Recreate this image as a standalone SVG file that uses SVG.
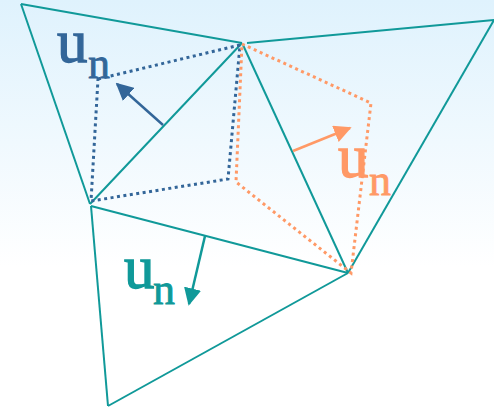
<svg xmlns="http://www.w3.org/2000/svg" width="494" height="411" viewBox="0 0 494 411">
<defs>
<linearGradient id="bg" x1="0" y1="0" x2="0" y2="1">
<stop offset="0" stop-color="#dff2fd"/>
<stop offset="0.65" stop-color="#ffffff"/>
<stop offset="1" stop-color="#ffffff"/>
</linearGradient>
<marker id="hb" viewBox="0 0 10 10" refX="9" refY="5" markerWidth="7" markerHeight="7" markerUnits="strokeWidth" orient="auto"><path d="M0,0 L10,5 L0,10 z" fill="#336699"/></marker>
<marker id="ho" viewBox="0 0 10 10" refX="9" refY="5" markerWidth="7" markerHeight="7" markerUnits="strokeWidth" orient="auto"><path d="M0,0 L10,5 L0,10 z" fill="#ff9966"/></marker>
<marker id="ht" viewBox="0 0 10 10" refX="9" refY="5" markerWidth="7" markerHeight="7" markerUnits="strokeWidth" orient="auto"><path d="M0,0 L10,5 L0,10 z" fill="#109999"/></marker>
</defs>
<style>
.e{fill:none;stroke:#109999;stroke-width:2}
.dotb{fill:none;stroke:#336699;stroke-width:3;stroke-dasharray:3 3.5}
.doto{fill:none;stroke:#ff9966;stroke-width:3;stroke-dasharray:3 3.5}
.u{font-family:"Liberation Serif","Times New Roman",serif;font-size:61px;stroke-width:1.3}
.n{font-family:"Liberation Serif","Times New Roman",serif;font-size:44px;stroke-width:0.8}
</style>
<rect width="494" height="411" fill="url(#bg)"/>
<g id="mesh">
<line class="e" x1="21" y1="4" x2="242" y2="43"/>
<line class="e" x1="21" y1="4" x2="90" y2="204"/>
<line class="e" x1="90" y1="204" x2="242" y2="43"/>
<line class="e" x1="247" y1="43" x2="494" y2="20"/>
<line class="e" x1="494" y1="20" x2="348" y2="273"/>
<line class="e" x1="243" y1="45" x2="348" y2="273"/>
<line class="e" x1="91" y1="206" x2="348" y2="273"/>
<line class="e" x1="91" y1="206" x2="108" y2="406"/>
<line class="e" x1="108" y1="406" x2="348" y2="273"/>
</g>
<g id="dual-blue">
<polygon class="dotb" points="98,79 240,45 228,179 91,201"/>
</g>
<g id="dual-orange">
<polygon class="doto" points="242,44 371,103 351,273 236,182"/>
</g>
<g id="connectors">
<line x1="163" y1="125" x2="117" y2="84" stroke="#336699" stroke-width="2.5" marker-end="url(#hb)"/>
<line x1="293" y1="151" x2="350" y2="128" stroke="#ff9966" stroke-width="2.5" marker-end="url(#ho)"/>
<line x1="205" y1="236" x2="189" y2="304" stroke="#109999" stroke-width="2.5" marker-end="url(#ht)"/>
</g>
<g id="label-blue" fill="#336699" stroke="#336699"><text class="u" x="57" y="62">u</text><text class="n" x="88" y="78">n</text></g>
<g id="label-orange" fill="#ff9966" stroke="#ff9966"><text class="u" x="338" y="177">u</text><text class="n" x="369" y="195">n</text></g>
<g id="label-teal" fill="#109999" stroke="#109999"><text class="u" x="124" y="288">u</text><text class="n" x="153" y="304">n</text></g>
</svg>
